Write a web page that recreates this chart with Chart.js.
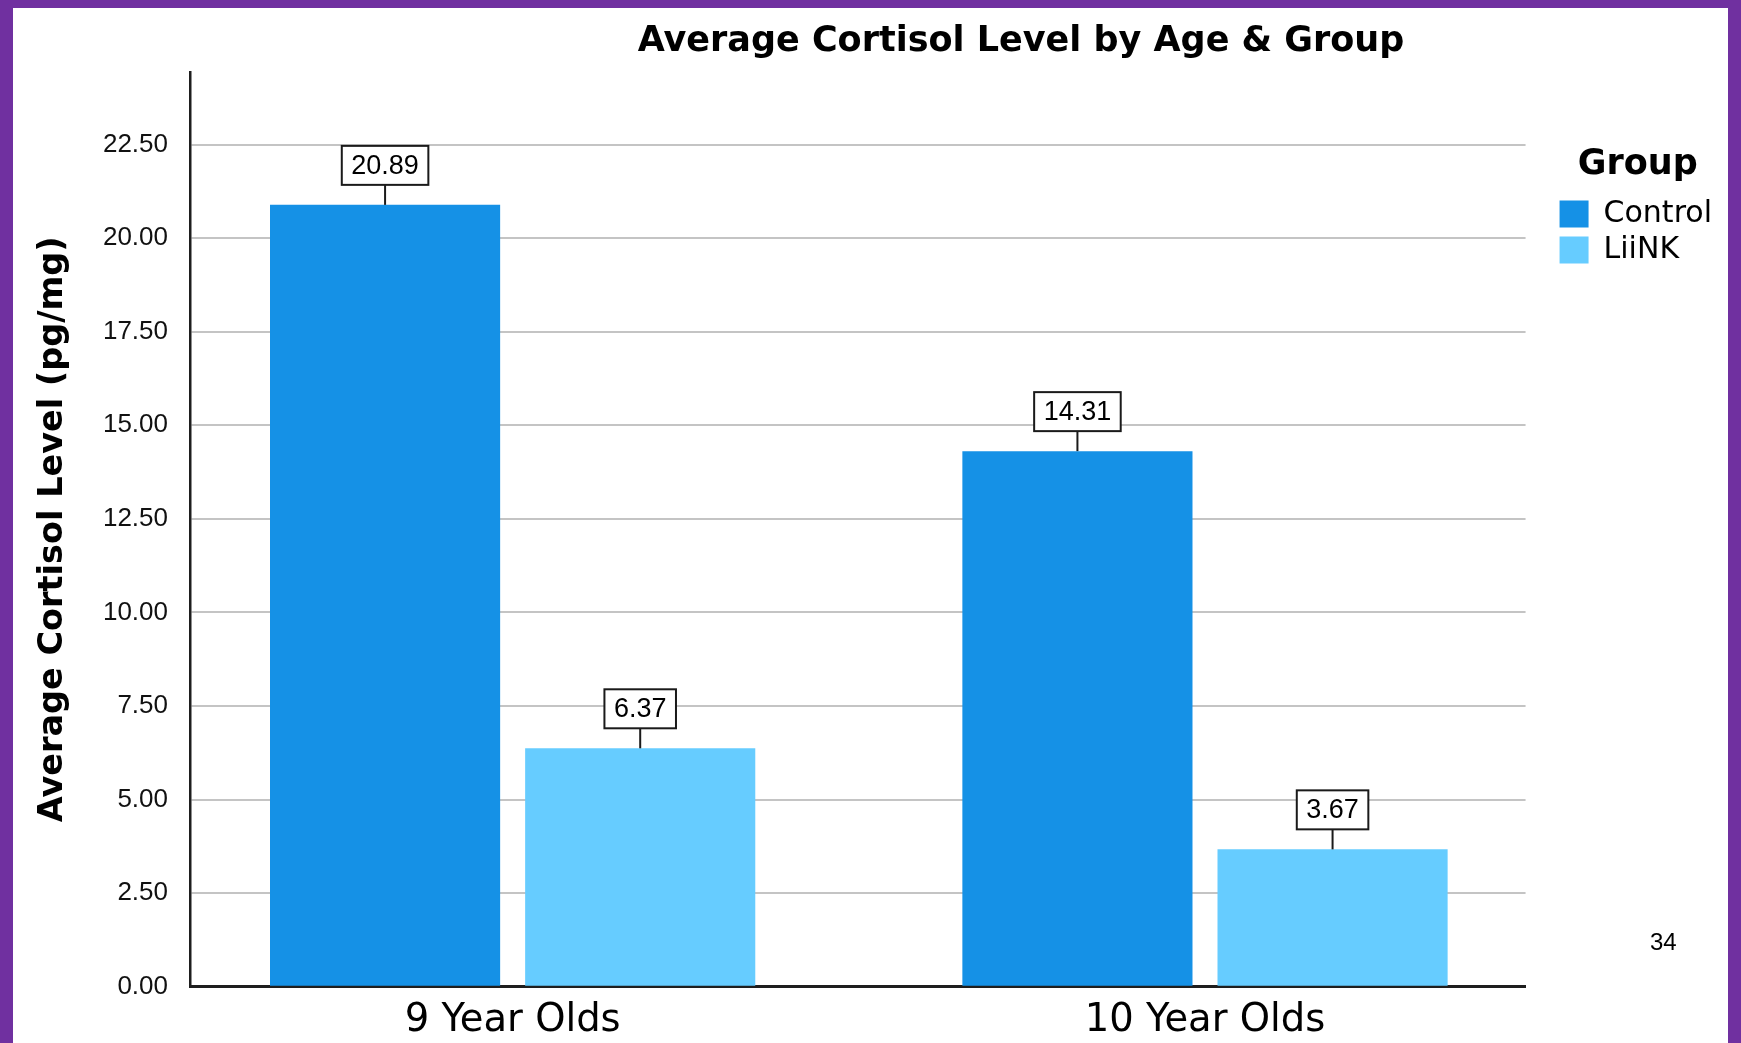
<!DOCTYPE html>
<html><head><meta charset="utf-8">
<script src="https://cdn.jsdelivr.net/npm/chart.js@4.4.1/dist/chart.umd.min.js"></script>
<style>
html,body{margin:0;padding:0;}
body{width:1741px;height:1043px;background:#7030A0;position:relative;overflow:hidden;}
#panel{position:absolute;left:13px;top:8px;width:1715px;height:1035px;background:#fff;}
#chart{position:absolute;left:0;top:0;}
#title{position:absolute;left:1008px;top:14px;transform:translateX(-50%);white-space:nowrap;font:bold 35px/35px "DejaVu Sans";color:#000;}
#page{position:absolute;left:1637px;top:922px;font:24px/24px "Liberation Sans";color:#000;}
</style></head>
<body>
<div id="panel">
<canvas id="chart" width="1715" height="1035"></canvas>
<div id="title">Average Cortisol Level by Age &amp; Group</div>
<div id="page">34</div>
</div>
<script>
const categories = ['9 Year Olds', '10 Year Olds'];
const seriesNames = ['Control', 'LiiNK'];
const controlValues = [20.89, 14.31];
const liinkValues = [6.37, 3.67];
const yTickValues = [0, 2.5, 5, 7.5, 10, 12.5, 15, 17.5, 20, 22.5];
const yAxisTitle = 'Average Cortisol Level (pg/mg)';
const legendTitle = 'Group';

const toPoints = (vals) => vals.map((v, i) => ({x: i, y: v}));

const valueLabels = {
  id: 'valueLabels',
  afterDatasetsDraw(chart) {
    const ctx = chart.ctx;
    ctx.save();
    ctx.font = '27px "Liberation Sans"';
    ctx.textAlign = 'center';
    ctx.textBaseline = 'middle';
    chart.data.datasets.forEach((ds, di) => {
      const meta = chart.getDatasetMeta(di);
      meta.data.forEach((bar, j) => {
        const text = ds.data[j].y.toFixed(2);
        const tw = ctx.measureText(text).width;
        const w = tw + 19, h = 39, gap = 20;
        const bx = bar.x, by = bar.y;
        ctx.strokeStyle = '#1a1a1a';
        ctx.lineWidth = 2;
        ctx.beginPath();
        ctx.moveTo(bx, by);
        ctx.lineTo(bx, by - gap);
        ctx.stroke();
        const top = by - gap - h;
        ctx.fillStyle = '#fff';
        ctx.fillRect(bx - w / 2, top, w, h);
        ctx.strokeRect(bx - w / 2, top, w, h);
        ctx.fillStyle = '#000';
        ctx.fillText(text, bx, top + h / 2 + 1);
      });
    });
    ctx.restore();
  }
};

new Chart(document.getElementById('chart'), {
  type: 'bar',
  data: {
    datasets: [
      {label: seriesNames[0], data: toPoints(controlValues), backgroundColor: '#1591E6', borderWidth: 0},
      {label: seriesNames[1], data: toPoints(liinkValues), backgroundColor: '#66CCFF', borderWidth: 0}
    ]
  },
  options: {
    responsive: false,
    animation: false,
    events: [],
    categoryPercentage: 0.737,
    barPercentage: 0.902,
    layout: {padding: {top: 64, right: 6, bottom: 0, left: 0}},
    plugins: {
      tooltip: {enabled: false},
      title: {display: false},
      legend: {
        display: true,
        position: 'right',
        align: 'start',
        fullSize: false,
        title: {display: true, text: legendTitle, color: '#000', font: {family: 'DejaVu Sans', size: 35, weight: 'bold'}, padding: {top: 75, bottom: 4}},
        labels: {color: '#000', font: {family: 'DejaVu Sans', size: 30}, boxWidth: 29, boxHeight: 27, padding: 6}
      }
    },
    scales: {
      x: {
        type: 'linear',
        min: -0.466,
        max: 1.463,
        offset: false,
        grid: {display: false, drawTicks: false},
        border: {display: true, color: '#1e1e1e', width: 3},
        afterBuildTicks: (s) => { s.ticks = categories.map((c, i) => ({value: i})); },
        afterFit: (s) => { s.height = 56.3; },
        ticks: {
          autoSkip: false, maxRotation: 0, padding: 11, color: '#000',
          font: {family: 'DejaVu Sans', size: 38.5},
          callback: (v) => categories[v]
        }
      },
      y: {
        type: 'linear',
        position: 'left',
        min: 0,
        max: 24.44,
        grid: {color: '#c4c4c4', lineWidth: 2, drawTicks: false},
        border: {display: true, color: '#1e1e1e', width: 2.5},
        afterBuildTicks: (s) => { s.ticks = yTickValues.map(v => ({value: v})); },
        afterFit: (s) => { s.width = 177; },
        ticks: {
          padding: 22, color: '#111',
          font: {family: 'Liberation Sans', size: 26},
          callback: (v) => Number(v).toFixed(2)
        },
        title: {
          display: true, text: yAxisTitle, color: '#000',
          font: {family: 'DejaVu Sans', size: 33.5, weight: 'bold'},
          padding: {top: 20, bottom: 0}
        }
      },
      ySpacer: {
        axis: 'y',
        type: 'linear',
        position: 'right',
        display: true,
        grid: {display: false},
        border: {display: false},
        ticks: {display: false},
        afterFit: (s) => { s.width = 28; }
      }
    }
  },
  plugins: [valueLabels]
});
</script>
</body></html>
